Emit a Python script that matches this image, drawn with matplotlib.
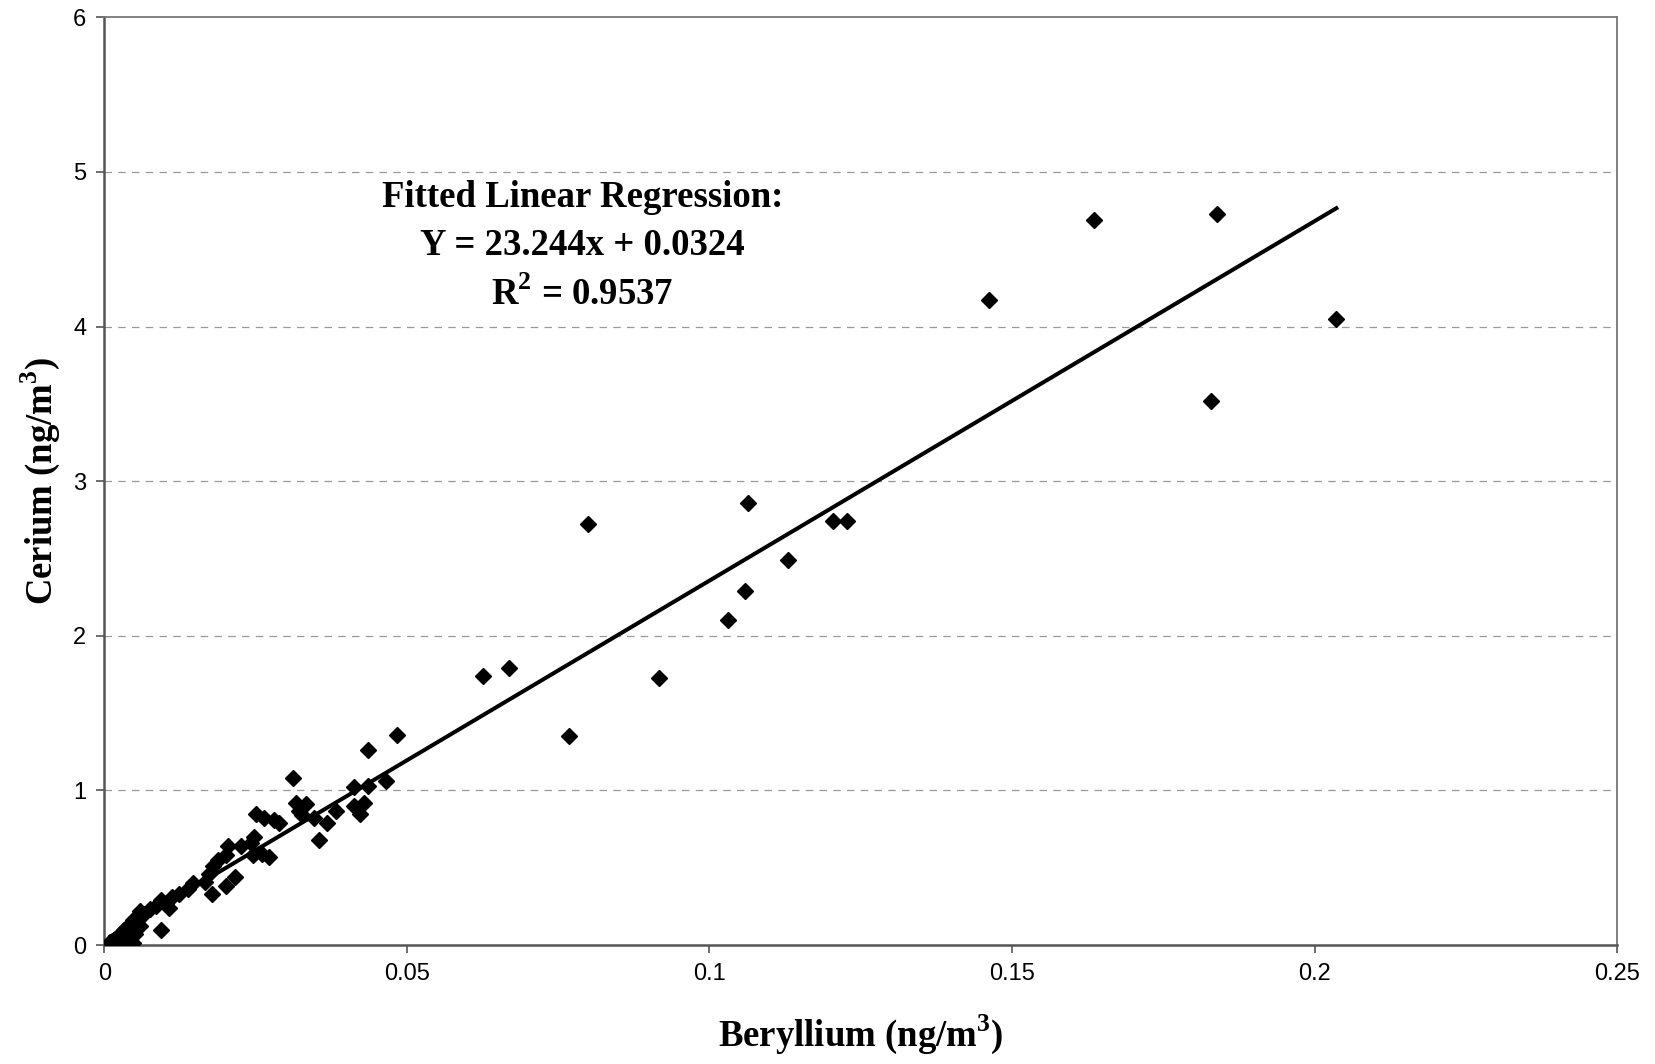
import matplotlib.pyplot as plt
import numpy as np

# Beryllium vs Cerium concentrations (ng/m3)
beryllium = [0.2036, 0.1839, 0.1829, 0.1635, 0.1462, 0.1228, 0.1204, 0.1129, 0.1064, 0.1059,
             0.1031, 0.0916, 0.0799, 0.0768, 0.0668, 0.0625, 0.0483, 0.0436, 0.0466, 0.0436,
             0.0413, 0.0429, 0.0422, 0.0413, 0.0311, 0.0333, 0.0321, 0.0316, 0.0326, 0.0347,
             0.0382, 0.0368, 0.0354, 0.0251, 0.0263, 0.0281, 0.0288, 0.0248, 0.0243, 0.0246,
             0.0260, 0.0272, 0.0225, 0.0204, 0.0201, 0.0215, 0.0201, 0.0188, 0.0180, 0.0173,
             0.0178, 0.0167, 0.0147, 0.0138, 0.0124, 0.0112, 0.0101, 0.0106, 0.0094, 0.0085,
             0.0075, 0.0094, 0.0065, 0.0059, 0.0054, 0.0047, 0.0059, 0.0040, 0.0033, 0.0028,
             0.0023, 0.0016, 0.0010, 0.0033, 0.0044, 0.0051, 0.0047, 0.0024]
cerium = [4.05, 4.73, 3.52, 4.69, 4.17, 2.74, 2.74, 2.49, 2.86, 2.29,
          2.10, 1.73, 2.72, 1.35, 1.79, 1.74, 1.36, 1.26, 1.06, 1.03,
          1.02, 0.92, 0.85, 0.90, 1.08, 0.91, 0.87, 0.92, 0.84, 0.82,
          0.87, 0.79, 0.68, 0.85, 0.82, 0.81, 0.79, 0.70, 0.66, 0.58,
          0.59, 0.57, 0.64, 0.64, 0.58, 0.44, 0.38, 0.55, 0.51, 0.46,
          0.33, 0.41, 0.40, 0.36, 0.33, 0.31, 0.27, 0.24, 0.29, 0.25,
          0.23, 0.10, 0.20, 0.22, 0.18, 0.16, 0.12, 0.13, 0.10, 0.08,
          0.05, 0.03, 0.02, 0.03, 0.05, 0.07, 0.01, 0.01]

slope = 23.244
intercept = 0.0324
fit_x = [0.001, 0.2036]

x_ticks = [0, 0.05, 0.1, 0.15, 0.2, 0.25]
x_tick_labels = ['0', '0.05', '0.1', '0.15', '0.2', '0.25']
y_ticks = [0, 1, 2, 3, 4, 5, 6]

fig = plt.figure(figsize=(16.55, 10.64), dpi=100)
ax = fig.add_axes([0.0631, 0.1118, 0.914, 0.872])

ax.plot(beryllium, cerium, 'D', color='black', markersize=8, zorder=3)
fx = np.array(fit_x)
ax.plot(fx, slope * fx + intercept, color='black', linewidth=2.9, zorder=4)

ax.set_xlim(0, 0.25)
ax.set_ylim(0, 6)
ax.set_xticks(x_ticks)
ax.set_xticklabels(x_tick_labels)
ax.set_yticks(y_ticks)

for y in y_ticks[1:-1]:
    ax.axhline(y, color='#999999', linestyle=(0, (6, 5)), linewidth=0.9, zorder=1)

for side in ['left', 'bottom']:
    ax.spines[side].set_color('#555555')
    ax.spines[side].set_linewidth(1.8)
for side in ['top', 'right']:
    ax.spines[side].set_color('#777777')
    ax.spines[side].set_linewidth(1.3)

ax.tick_params(axis='both', direction='out', length=6, width=1.2, color='#555555',
               labelsize=17, pad=7)
for lab in ax.get_xticklabels() + ax.get_yticklabels():
    lab.set_family('Liberation Sans')

label_font = dict(family='Liberation Serif', fontweight='bold', fontsize=26.5)
ax.set_xlabel('Beryllium (ng/m$^{\\mathregular{3}}$)', labelpad=20, **label_font)
ax.set_ylabel('Cerium (ng/m$^{\\mathregular{3}}$)', labelpad=8, **label_font)

ax.text(0.079, 4.95, 'Fitted Linear Regression:\nY = 23.244x + 0.0324\nR$^{\\mathregular{2}}$ = 0.9537',
        ha='center', va='top', linespacing=1.5, **label_font)

fig.savefig('out.png', dpi=100)
